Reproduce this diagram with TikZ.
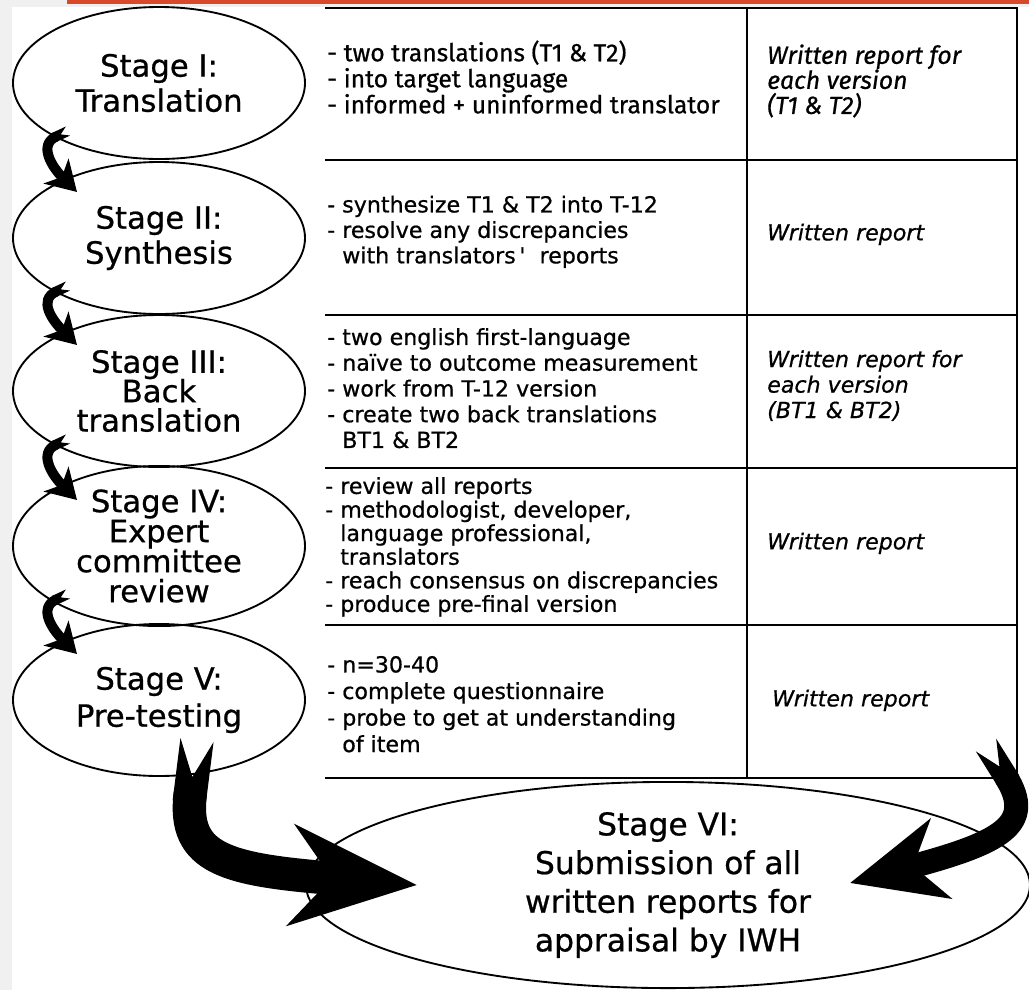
\documentclass[tikz,border=0pt]{standalone}
\usepackage{fontspec}
\setmainfont{DejaVu Sans}[FakeBold=0.7]
\newfontfamily\firasans{Fira Sans}[FakeBold=0.7]
\usetikzlibrary{arrows.meta,shapes.geometric}
\setlength{\lineskiplimit}{-40pt}
\definecolor{slidegray}{HTML}{F0F0F0}
\definecolor{slideorange}{HTML}{D8492C}
\newcommand\ind{\phantom{- }}
\tikzset{
  stage/.style={draw, ellipse, line width=1.4pt, inner sep=0pt, align=center,
    minimum width=219pt, minimum height=114pt},
  cell/.style={anchor=west, inner sep=0pt, align=left,
    font=\fontsize{16.6}{#1}\selectfont},
  report/.style={cell=#1, font=\fontsize{16.6}{#1}\selectfont\itshape},
  tableline/.style={line width=1.6pt},
  hookarrow/.style={line width=7.5pt,
    {Triangle Cap[reversed,length=6pt]}-{Stealth[length=22pt,width=26pt,inset=6pt]}},
  sweepL/.style={line width=25pt,
    {Triangle Cap[reversed,length=28pt]}-{Stealth[length=94pt,width=75pt,inset=30pt]}},
  sweepR/.style={line width=18pt,
    {Triangle Cap[reversed,length=19pt]}-{Stealth[length=70pt,width=61pt,inset=21pt]}}
}
\begin{document}
\begin{tikzpicture}[x=0.75pt, y=-0.75pt]
% slide background
\fill[slidegray] (0,0) rectangle (1029,990);
\fill[white] (12,7) rectangle (1029,990);
\fill[slideorange] (67,0) rectangle (1029,3.5);
\useasboundingbox (0,0) rectangle (1029,990);

% table
\draw[tableline] (325,8) -- (1017,8) -- (1017,778) coordinate (tbr);
\foreach \y in {160,315,468,625,778}
  \draw[tableline] (325,\y) -- (1017,\y);
\draw[tableline] (747,8) -- (747,778);

% stages
\node[stage, font=\fontsize{23}{26.3}\selectfont] (s1) at (159,83) {Stage I:\\Translation};
\node[stage, font=\fontsize{23}{26.3}\selectfont] (s2) at (159,238) {Stage II:\\Synthesis};
\node[stage, font=\fontsize{23}{22}\selectfont] (s3) at (159,391) {Stage III:\\Back\\translation};
\node[stage, font=\fontsize{23}{22.5}\selectfont] (s4) at (159,546) {Stage IV:\\Expert\\committee\\review};
\node[stage, font=\fontsize{23}{27.8}\selectfont] (s5) at (159,700) {Stage V:\\Pre-testing};
\node[stage, minimum width=543pt, minimum height=150pt,
  font=\fontsize{23.5}{29}\selectfont] (s6) at (668,885)
  {Stage VI:\\Submission of all\\written reports for\\appraisal by IWH};

% what is done
\node[cell=19.5, font=\firasans\fontsize{18.5}{19.5}\selectfont] (d1) at (327,77)
  {- two translations (T1 \& T2)\\- into target language\\- informed + uninformed translator};
\node[cell=19.1] (d2) at (327,231.8)
  {- synthesize T1 \& T2 into T-12\\- resolve any discrepancies\\\ind with translators\,\textquotesingle\ \ reports};
\node[cell=19.3] (d3) at (327,388.2)
  {- two english first-language\\- naïve to outcome measurement\\- work from T-12 version\\- create two back translations\\\ind BT1 \& BT2};
\node[cell=17.7] (d4) at (325,546.8)
  {- review all reports\\- methodologist, developer,\\\ind language professional,\\\ind translators\\- reach consensus on discrepancies\\- produce pre-final version};
\node[cell=19.9] (d5) at (327,704.2)
  {- n=30-40\\- complete questionnaire\\- probe to get at understanding\\\ind of item};

% reports
\node[report=18.8, font=\firasans\itshape\fontsize{18.6}{18.8}\selectfont] (r1) at (767,81)
  {Written report for\\each version\\(T1 \& T2)};
\node[report=19] (r2) at (767,234.3) {Written report};
\node[report=19.1] (r3) at (767,385.6) {Written report for\\each version\\(BT1 \& BT2)};
\node[report=19] (r4) at (767,543.3) {Written report};
\node[report=19] (r5) at (772,700.3) {Written report};

% arrows
\foreach \a/\b in {s1/s2,s2/s3,s3/s4,s4/s5}
  \draw[hookarrow] ([shift={(-91,48)}]\a.center) .. controls +(-30,14) and +(-25,-25) .. ([shift={(-82,-46)}]\b.center);
\draw[sweepL] ([shift={(38,40)}]s5.center) .. controls +(-15,120) and +(-190,-15) .. ([shift={(-251,0)}]s6.center);
\draw[sweepR] ([shift={(-31,-33)}]tbr) .. controls +(50,80) and +(150,-40) .. ([shift={(182,-2)}]s6.center);
\end{tikzpicture}
\end{document}
